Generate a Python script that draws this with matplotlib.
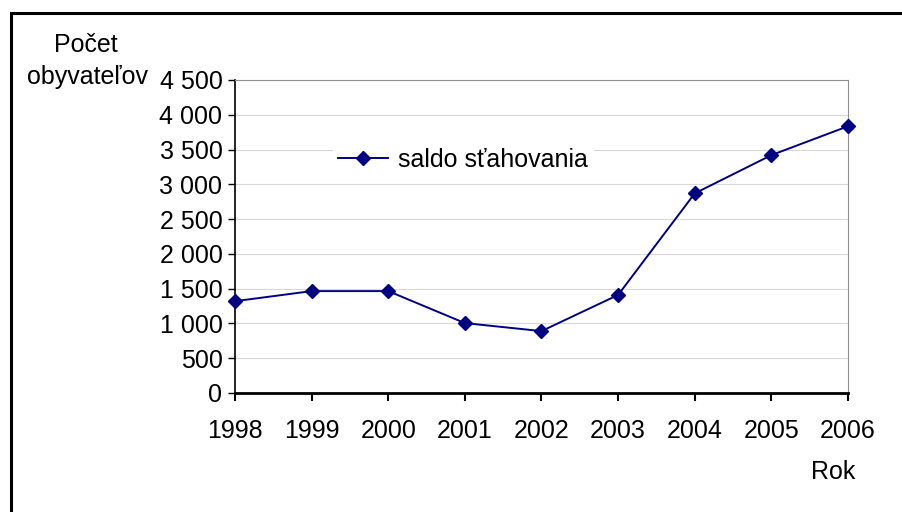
import matplotlib.pyplot as plt
from matplotlib.patches import Rectangle
from matplotlib.ticker import FuncFormatter

years = ['1998', '1999', '2000', '2001', '2002', '2003', '2004', '2005', '2006']
saldo = [1320, 1465, 1465, 1005, 890, 1410, 2870, 3420, 3835]
y_ticks = [0, 500, 1000, 1500, 2000, 2500, 3000, 3500, 4000, 4500]

plt.rcParams['font.family'] = ['Liberation Sans', 'DejaVu Sans']
plt.rcParams['font.size'] = 18

fig = plt.figure(figsize=(9.03, 5.12), dpi=100)
ax = fig.add_axes([235 / 903, 1 - 393 / 512, (848 - 235) / 903, (393 - 80) / 512])

# outer chart frame (runs off the right and bottom edges)
fig.patches.append(Rectangle((11 / 903, -0.2), 1.2, 1.2 - 13 / 512,
                             transform=fig.transFigure, fill=False,
                             edgecolor='black', linewidth=2.2, zorder=10))

x = list(range(len(years)))
ax.plot(x, saldo, color='#000080', marker='D', markersize=7.5, linewidth=1.4,
        label='saldo sťahovania', zorder=3, clip_on=False)

ax.set_xlim(0, len(years) - 1)
ax.set_ylim(0, 4500)
ax.set_xticks(x)
ax.set_xticklabels(years)
ax.set_yticks(y_ticks)
ax.yaxis.set_major_formatter(FuncFormatter(lambda v, p: f'{int(v):,}'.replace(',', ' ')))
ax.grid(axis='y', color='#d8d8d8', linewidth=0.8)
ax.set_axisbelow(True)

ax.tick_params(axis='x', direction='out', length=6, width=1.5, pad=13, colors='black')
ax.tick_params(axis='y', direction='out', length=5, width=1, pad=4, colors='black')
ax.spines['left'].set_linewidth(1.2)
ax.spines['bottom'].set_linewidth(2)
ax.spines['top'].set_color('#909090')
ax.spines['right'].set_color('#909090')

ax.legend(loc='upper left', bbox_to_anchor=(0.14, 0.84), frameon=True,
          facecolor='white', edgecolor='white', framealpha=1, fancybox=False,
          handlelength=2.0, handletextpad=0.4, borderpad=0.2, fontsize=18)

fig.text(86 / 903, 1 - 45 / 512, 'Počet', ha='center', va='center', fontsize=18)
fig.text(88 / 903, 1 - 77 / 512, 'obyvateľov', ha='center', va='center', fontsize=18)
fig.text(833 / 903, 1 - 472 / 512, 'Rok', ha='center', va='center', fontsize=18)

fig.savefig('out.png', dpi=100)
